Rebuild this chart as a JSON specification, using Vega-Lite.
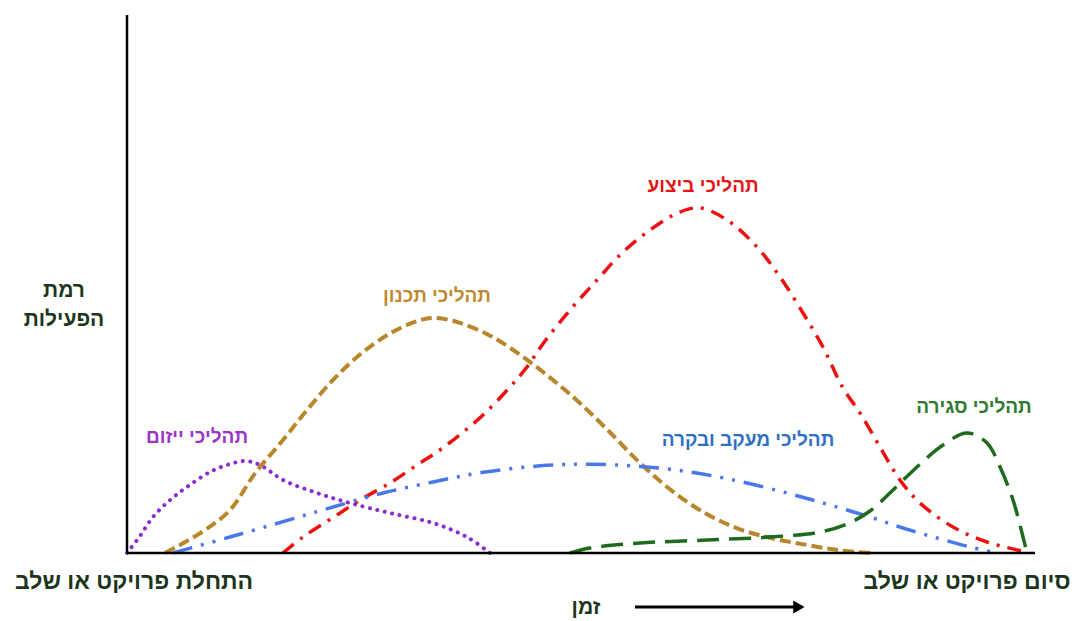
{
  "$schema": "https://vega.github.io/schema/vega-lite/v6.json",
  "width": 1087,
  "height": 621,
  "padding": 0,
  "autosize": {"type": "fit", "contains": "padding"},
  "background": "white",
  "config": {"view": {"stroke": null}},
  "datasets": {
    "curves": [
      {"process": "ייזום", "t": 0, "a": 0},
      {"process": "ייזום", "t": 1.43, "a": 3.16},
      {"process": "ייזום", "t": 2.86, "a": 6.69},
      {"process": "ייזום", "t": 4.74, "a": 9.85},
      {"process": "ייזום", "t": 6.61, "a": 12.27},
      {"process": "ייזום", "t": 9.14, "a": 15.06},
      {"process": "ייזום", "t": 11.34, "a": 16.54},
      {"process": "ייזום", "t": 13.0, "a": 17.1},
      {"process": "ייזום", "t": 14.65, "a": 16.36},
      {"process": "ייזום", "t": 17.18, "a": 13.57},
      {"process": "ייזום", "t": 20.93, "a": 11.15},
      {"process": "ייזום", "t": 24.56, "a": 9.29},
      {"process": "ייזום", "t": 28.96, "a": 7.43},
      {"process": "ייזום", "t": 33.7, "a": 5.58},
      {"process": "ייזום", "t": 37.44, "a": 2.97},
      {"process": "ייזום", "t": 39.98, "a": 0},

      {"process": "תכנון", "t": 4.19, "a": 0},
      {"process": "תכנון", "t": 8.26, "a": 3.9},
      {"process": "תכנון", "t": 11.34, "a": 7.99},
      {"process": "תכנון", "t": 14.1, "a": 14.8},
      {"process": "תכנון", "t": 17.18, "a": 21.0},
      {"process": "תכנון", "t": 19.82, "a": 26.58},
      {"process": "תכנון", "t": 22.69, "a": 32.16},
      {"process": "תכנון", "t": 25.66, "a": 36.9},
      {"process": "תכנון", "t": 28.96, "a": 40.8},
      {"process": "תכנון", "t": 31.94, "a": 43.1},
      {"process": "תכנון", "t": 33.7, "a": 43.68},
      {"process": "תכנון", "t": 36.34, "a": 42.94},
      {"process": "תכנון", "t": 39.98, "a": 40.4},
      {"process": "תכנון", "t": 43.5, "a": 36.6},
      {"process": "תכנון", "t": 46.59, "a": 32.6},
      {"process": "תכנון", "t": 49.6, "a": 28.3},
      {"process": "תכנון", "t": 52.86, "a": 23.0},
      {"process": "תכנון", "t": 56.5, "a": 16.73},
      {"process": "תכנון", "t": 60.13, "a": 11.4},
      {"process": "תכנון", "t": 63.88, "a": 7.2},
      {"process": "תכנון", "t": 67.51, "a": 4.4},
      {"process": "תכנון", "t": 71.15, "a": 2.7},
      {"process": "תכנון", "t": 74.89, "a": 1.49},
      {"process": "תכנון", "t": 78.52, "a": 0.5},
      {"process": "תכנון", "t": 81.83, "a": 0},

      {"process": "ביצוע", "t": 17.18, "a": 0},
      {"process": "ביצוע", "t": 19.38, "a": 2.97},
      {"process": "ביצוע", "t": 23.13, "a": 7.06},
      {"process": "ביצוע", "t": 25.66, "a": 9.85},
      {"process": "ביצוע", "t": 28.96, "a": 13.01},
      {"process": "ביצוע", "t": 31.94, "a": 16.36},
      {"process": "ביצוע", "t": 34.14, "a": 18.77},
      {"process": "ביצוע", "t": 36.34, "a": 21.56},
      {"process": "ביצוע", "t": 39.21, "a": 25.65},
      {"process": "ביצוע", "t": 42.18, "a": 30.86},
      {"process": "ביצוע", "t": 44.05, "a": 34.57},
      {"process": "ביצוע", "t": 46.04, "a": 39.41},
      {"process": "ביצוע", "t": 48.79, "a": 45.17},
      {"process": "ביצוע", "t": 51.76, "a": 50.74},
      {"process": "ביצוע", "t": 54.63, "a": 55.95},
      {"process": "ביצוע", "t": 57.6, "a": 60.04},
      {"process": "ביצוע", "t": 60.9, "a": 63.38},
      {"process": "ביצוע", "t": 63.11, "a": 64.13},
      {"process": "ביצוע", "t": 66.08, "a": 61.9},
      {"process": "ביצוע", "t": 69.38, "a": 56.88},
      {"process": "ביצוע", "t": 71.92, "a": 51.3},
      {"process": "ביצוע", "t": 74.45, "a": 44.61},
      {"process": "ביצוע", "t": 76.65, "a": 38.29},
      {"process": "ביצוע", "t": 78.85, "a": 30.67},
      {"process": "ביצוע", "t": 80.73, "a": 26.02},
      {"process": "ביצוע", "t": 82.93, "a": 19.7},
      {"process": "ביצוע", "t": 85.13, "a": 13.57},
      {"process": "ביצוע", "t": 87.33, "a": 9.29},
      {"process": "ביצוע", "t": 90.97, "a": 4.83},
      {"process": "ביצוע", "t": 94.71, "a": 2.04},
      {"process": "ביצוע", "t": 98.57, "a": 0.37},

      {"process": "מעקב ובקרה", "t": 5.07, "a": 0},
      {"process": "מעקב ובקרה", "t": 11.34, "a": 2.97},
      {"process": "מעקב ובקרה", "t": 17.95, "a": 6.2},
      {"process": "מעקב ובקרה", "t": 22.69, "a": 8.55},
      {"process": "מעקב ובקרה", "t": 28.19, "a": 11.15},
      {"process": "מעקב ובקרה", "t": 33.7, "a": 13.2},
      {"process": "מעקב ובקרה", "t": 39.21, "a": 15.0},
      {"process": "מעקב ובקרה", "t": 46.26, "a": 16.3},
      {"process": "מעקב ובקרה", "t": 50.99, "a": 16.5},
      {"process": "מעקב ובקרה", "t": 56.5, "a": 16.1},
      {"process": "מעקב ובקרה", "t": 62.0, "a": 15.06},
      {"process": "מעקב ובקרה", "t": 67.51, "a": 13.3},
      {"process": "מעקב ובקרה", "t": 73.02, "a": 11.0},
      {"process": "מעקב ובקרה", "t": 77.42, "a": 8.92},
      {"process": "מעקב ובקרה", "t": 81.83, "a": 6.69},
      {"process": "מעקב ובקרה", "t": 85.46, "a": 4.65},
      {"process": "מעקב ובקרה", "t": 89.21, "a": 2.79},
      {"process": "מעקב ובקרה", "t": 92.84, "a": 1.12},
      {"process": "מעקב ובקרה", "t": 95.81, "a": 0},

      {"process": "סגירה", "t": 48.79, "a": 0},
      {"process": "סגירה", "t": 50.99, "a": 0.93},
      {"process": "סגירה", "t": 56.5, "a": 1.86},
      {"process": "סגירה", "t": 63.88, "a": 2.42},
      {"process": "סגירה", "t": 71.15, "a": 3.0},
      {"process": "סגירה", "t": 76.32, "a": 3.9},
      {"process": "סגירה", "t": 79.3, "a": 5.4},
      {"process": "סגירה", "t": 81.83, "a": 7.8},
      {"process": "סגירה", "t": 84.36, "a": 11.71},
      {"process": "סגירה", "t": 87.33, "a": 16.5},
      {"process": "סגירה", "t": 89.87, "a": 20.07},
      {"process": "סגירה", "t": 92.51, "a": 22.3},
      {"process": "סגירה", "t": 94.71, "a": 20.45},
      {"process": "סגירה", "t": 96.15, "a": 15.99},
      {"process": "סגירה", "t": 97.58, "a": 9.85},
      {"process": "סגירה", "t": 98.68, "a": 2.97},
      {"process": "סגירה", "t": 99.12, "a": 0}
    ],
    "labels": [
      {"process": "ייזום", "text": "תהליכי ייזום", "t": 7.71, "a": 21.56},
      {"process": "תכנון", "text": "תהליכי תכנון", "t": 34.14, "a": 47.77},
      {"process": "ביצוע", "text": "תהליכי ביצוע", "t": 63.44, "a": 68.22},
      {"process": "מעקב ובקרה", "text": "תהליכי מעקב ובקרה", "t": 68.39, "a": 21.0},
      {"process": "סגירה", "text": "תהליכי סגירה", "t": 93.28, "a": 27.14}
    ],
    "axisText": [
      {"text": "רמת", "t": -6.94, "a": 48.7, "kind": "small"},
      {"text": "הפעילות", "t": -6.94, "a": 43.31, "kind": "small"},
      {"text": "התחלת פרויקט או שלב", "t": 0.77, "a": -5.39, "kind": "big"},
      {"text": "סיום פרויקט או שלב", "t": 92.51, "a": -5.39, "kind": "big"},
      {"text": "זמן", "t": 50.55, "a": -10.22, "kind": "small"}
    ],
    "axes": [
      {"name": "activity", "t": 0, "t2": 0, "a": 0, "a2": 100},
      {"name": "time", "t": 0, "t2": 100, "a": 0, "a2": 0}
    ],
    "arrow": [
      {"t": 55.95, "t2": 74.0, "a": -10.04}
    ]
  },
  "encoding": {
    "x": {"field": "t", "type": "quantitative", "scale": {"domain": [-13.987, 105.727], "nice": false, "zero": false}, "axis": null},
    "y": {"field": "a", "type": "quantitative", "scale": {"domain": [-12.639, 102.788], "nice": false, "zero": false}, "axis": null}
  },
  "layer": [
    {
      "data": {"name": "curves"},
      "transform": [{"filter": "datum.process === 'ייזום'"}],
      "mark": {"type": "line", "interpolate": "catmull-rom", "color": "#8a2ccf", "strokeWidth": 4, "strokeDash": [0.1, 7.5], "strokeCap": "round"},
      "encoding": {"order": {"field": "t", "type": "quantitative"}}
    },
    {
      "data": {"name": "curves"},
      "transform": [{"filter": "datum.process === 'תכנון'"}],
      "mark": {"type": "line", "interpolate": "catmull-rom", "color": "#b8862b", "strokeWidth": 4, "strokeDash": [11, 5]},
      "encoding": {"order": {"field": "t", "type": "quantitative"}}
    },
    {
      "data": {"name": "curves"},
      "transform": [{"filter": "datum.process === 'ביצוע'"}],
      "mark": {"type": "line", "interpolate": "catmull-rom", "color": "#ee1111", "strokeWidth": 3.5, "strokeDash": [14, 8, 3, 8]},
      "encoding": {"order": {"field": "t", "type": "quantitative"}}
    },
    {
      "data": {"name": "curves"},
      "transform": [{"filter": "datum.process === 'מעקב ובקרה'"}],
      "mark": {"type": "line", "interpolate": "catmull-rom", "color": "#4a78ea", "strokeWidth": 3.5, "strokeDash": [20, 9, 3, 9, 3, 9]},
      "encoding": {"order": {"field": "t", "type": "quantitative"}}
    },
    {
      "data": {"name": "curves"},
      "transform": [{"filter": "datum.process === 'סגירה'"}],
      "mark": {"type": "line", "interpolate": "catmull-rom", "color": "#1e6b1e", "strokeWidth": 3.5, "strokeDash": [22, 10]},
      "encoding": {"order": {"field": "t", "type": "quantitative"}}
    },
    {
      "data": {"name": "axes"},
      "mark": {"type": "rule", "color": "#000000", "strokeWidth": 2.5},
      "encoding": {"x2": {"field": "t2"}, "y2": {"field": "a2"}}
    },
    {
      "data": {"name": "arrow"},
      "mark": {"type": "rule", "color": "#000000", "strokeWidth": 3},
      "encoding": {"x2": {"field": "t2"}}
    },
    {
      "data": {"name": "arrow"},
      "mark": {"type": "point", "shape": "triangle-right", "filled": true, "color": "#000000", "size": 170, "opacity": 1},
      "encoding": {"x": {"field": "t2", "type": "quantitative"}}
    },
    {
      "data": {"name": "labels"},
      "mark": {"type": "text", "font": "Liberation Sans", "fontWeight": "bold", "fontSize": 19, "align": "center", "baseline": "middle"},
      "encoding": {
        "text": {"field": "text"},
        "color": {"field": "process", "type": "nominal", "legend": null,
          "scale": {"domain": ["ייזום", "תכנון", "ביצוע", "מעקב ובקרה", "סגירה"],
                    "range": ["#9b35c8", "#bd8a30", "#e41515", "#2f6fc4", "#2e7a2e"]}}
      }
    },
    {
      "data": {"name": "axisText"},
      "mark": {"type": "text", "font": "Liberation Sans", "fontWeight": "bold", "align": "center", "baseline": "middle", "color": "#1c361c"},
      "encoding": {
        "text": {"field": "text"},
        "size": {"field": "kind", "type": "nominal", "legend": null, "scale": {"domain": ["small", "big"], "range": [21, 23]}}
      }
    }
  ]
}
